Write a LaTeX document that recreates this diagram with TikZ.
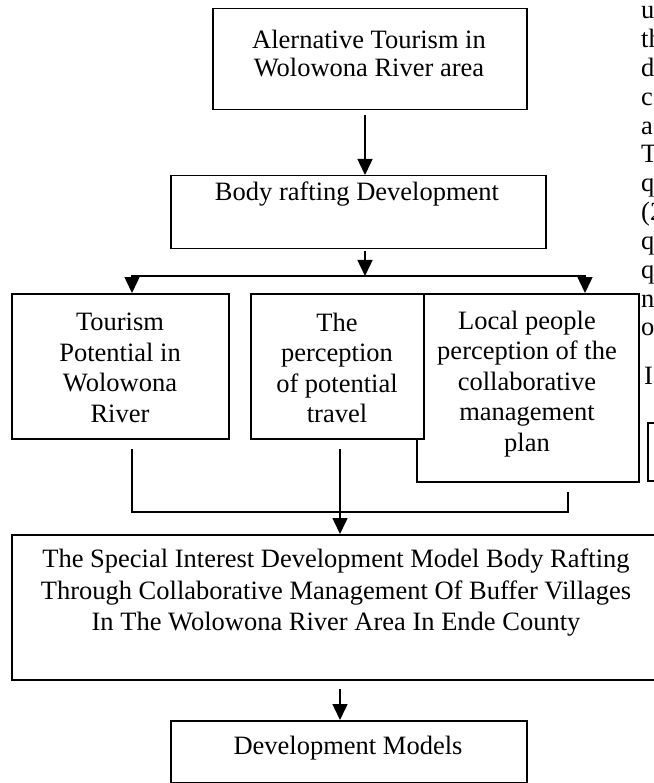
\documentclass[tikz,border=0pt]{standalone}
\usepackage{fontspec}
\setmainfont{Liberation Serif}
\usetikzlibrary{arrows.meta,positioning}

\newcommand\boxtextstyle{\fontsize{26.5}{30.5}\selectfont}
\newcommand\tighttextstyle{\fontsize{26.5}{28}\selectfont}
\newcommand\widetextstyle{\fontsize{26.5}{31.5}\selectfont}
\newcommand\sidetextstyle{\fontsize{26.5}{28.8}\selectfont}

\tikzset{
  frame/.style={draw, line width=1.5pt, fill=white, inner sep=0pt, anchor=north west},
  boxtext/.style={align=center, inner sep=0pt, font=\boxtextstyle},
  sidetext/.style={inner sep=0pt, anchor=base west, font=\sidetextstyle},
  flow/.style={line width=1.5pt, -{Triangle[width=15pt,length=16pt]}},
  link/.style={line width=1.5pt},
}

\begin{document}
\begin{tikzpicture}[x=1pt, y=-1pt]
  \useasboundingbox (0,0) rectangle (653,783);

  % boxes
  \node[frame, minimum width=314pt, minimum height=101pt] (alternative) at (212,8) {};
  \node[boxtext, font=\tighttextstyle] (alternativetext) at (369,54) {Alernative Tourism in\\Wolowona River area};

  \node[frame, minimum width=375pt, minimum height=73pt] (rafting) at (170,175) {};
  \node[boxtext] (raftingtext) at (357,194) {Body rafting Development};

  \node[frame, minimum width=217pt, minimum height=145pt] (potential) at (11,293) {};
  \node[boxtext] (potentialtext) at (120,368) {Tourism\\Potential in\\Wolowona\\River};

  \node[frame, minimum width=222pt, minimum height=188pt] (localpeople) at (416,293) {};
  \node[boxtext] (localpeopletext) at (527,384) {Local people\\perception of the\\collaborative\\management\\plan};

  \node[frame, minimum width=173pt, minimum height=145pt] (travel) at (250,293) {};
  \node[boxtext] (traveltext) at (337,368) {The\\perception\\of potential\\travel};

  \node[frame, minimum width=650pt, minimum height=145pt] (special) at (11,534) {};
  \node[boxtext, font=\widetextstyle] (specialtext) at (336,593) {The Special Interest Development Model Body Rafting\\Through Collaborative Management Of Buffer Villages\\In The Wolowona River Area In Ende County};

  \node[frame, minimum width=356pt, minimum height=62pt] (models) at (170,720) {};
  \node[boxtext] (modelstext) at (348,748) {Development Models};

  % connectors
  \coordinate (split) at (365,276);
  \coordinate (leftdrop) at (132,276);
  \coordinate (rightdrop) at (585,276);
  \coordinate (mergeleft) at (132,512);
  \coordinate (merge) at (340,512);
  \coordinate (mergeright) at (568,512);

  \draw[flow] ([yshift=-5pt]alternative.south -| split) -- (rafting.north -| split);
  \draw[flow] ([yshift=-2pt]rafting.south -| split) -- (split);
  \draw[flow] (split) -| (leftdrop |- potential.north);
  \draw[flow] (split) -| (rightdrop |- localpeople.north);

  \draw[link] ([yshift=-9pt]potential.south -| mergeleft) -- (mergeleft) -- (mergeright) -- ([yshift=-9pt]localpeople.south -| mergeright);
  \draw[link] ([yshift=-9pt]travel.south -| merge) -- (merge);
  \draw[flow] (merge) -- (merge |- special.north);
  \draw[flow] ([yshift=-8pt]special.south -| merge) -- (merge |- models.north);

  % page text beside the figure
  \node[sidetext] (side0) at (641,19) {u};
  \node[sidetext] (side1) at (641,47.8) {th};
  \node[sidetext] (side2) at (641,76.6) {d};
  \node[sidetext] (side3) at (641,105.4) {c};
  \node[sidetext] (side4) at (641,134.2) {a};
  \node[sidetext] (side5) at (641,163) {T};
  \node[sidetext] (side6) at (641,191.8) {q};
  \node[sidetext] (side7) at (641,220.6) {(2};
  \node[sidetext] (side8) at (641,249.4) {q};
  \node[sidetext] (side9) at (641,278.2) {q};
  \node[sidetext] (side10) at (641,307) {n};
  \node[sidetext] (side11) at (641,335.8) {o};
  \node[sidetext] (sidelast) at (644,384) {I};
  \node[frame, minimum width=40pt, minimum height=58pt] (sidebox) at (647,422) {};
\end{tikzpicture}
\end{document}
